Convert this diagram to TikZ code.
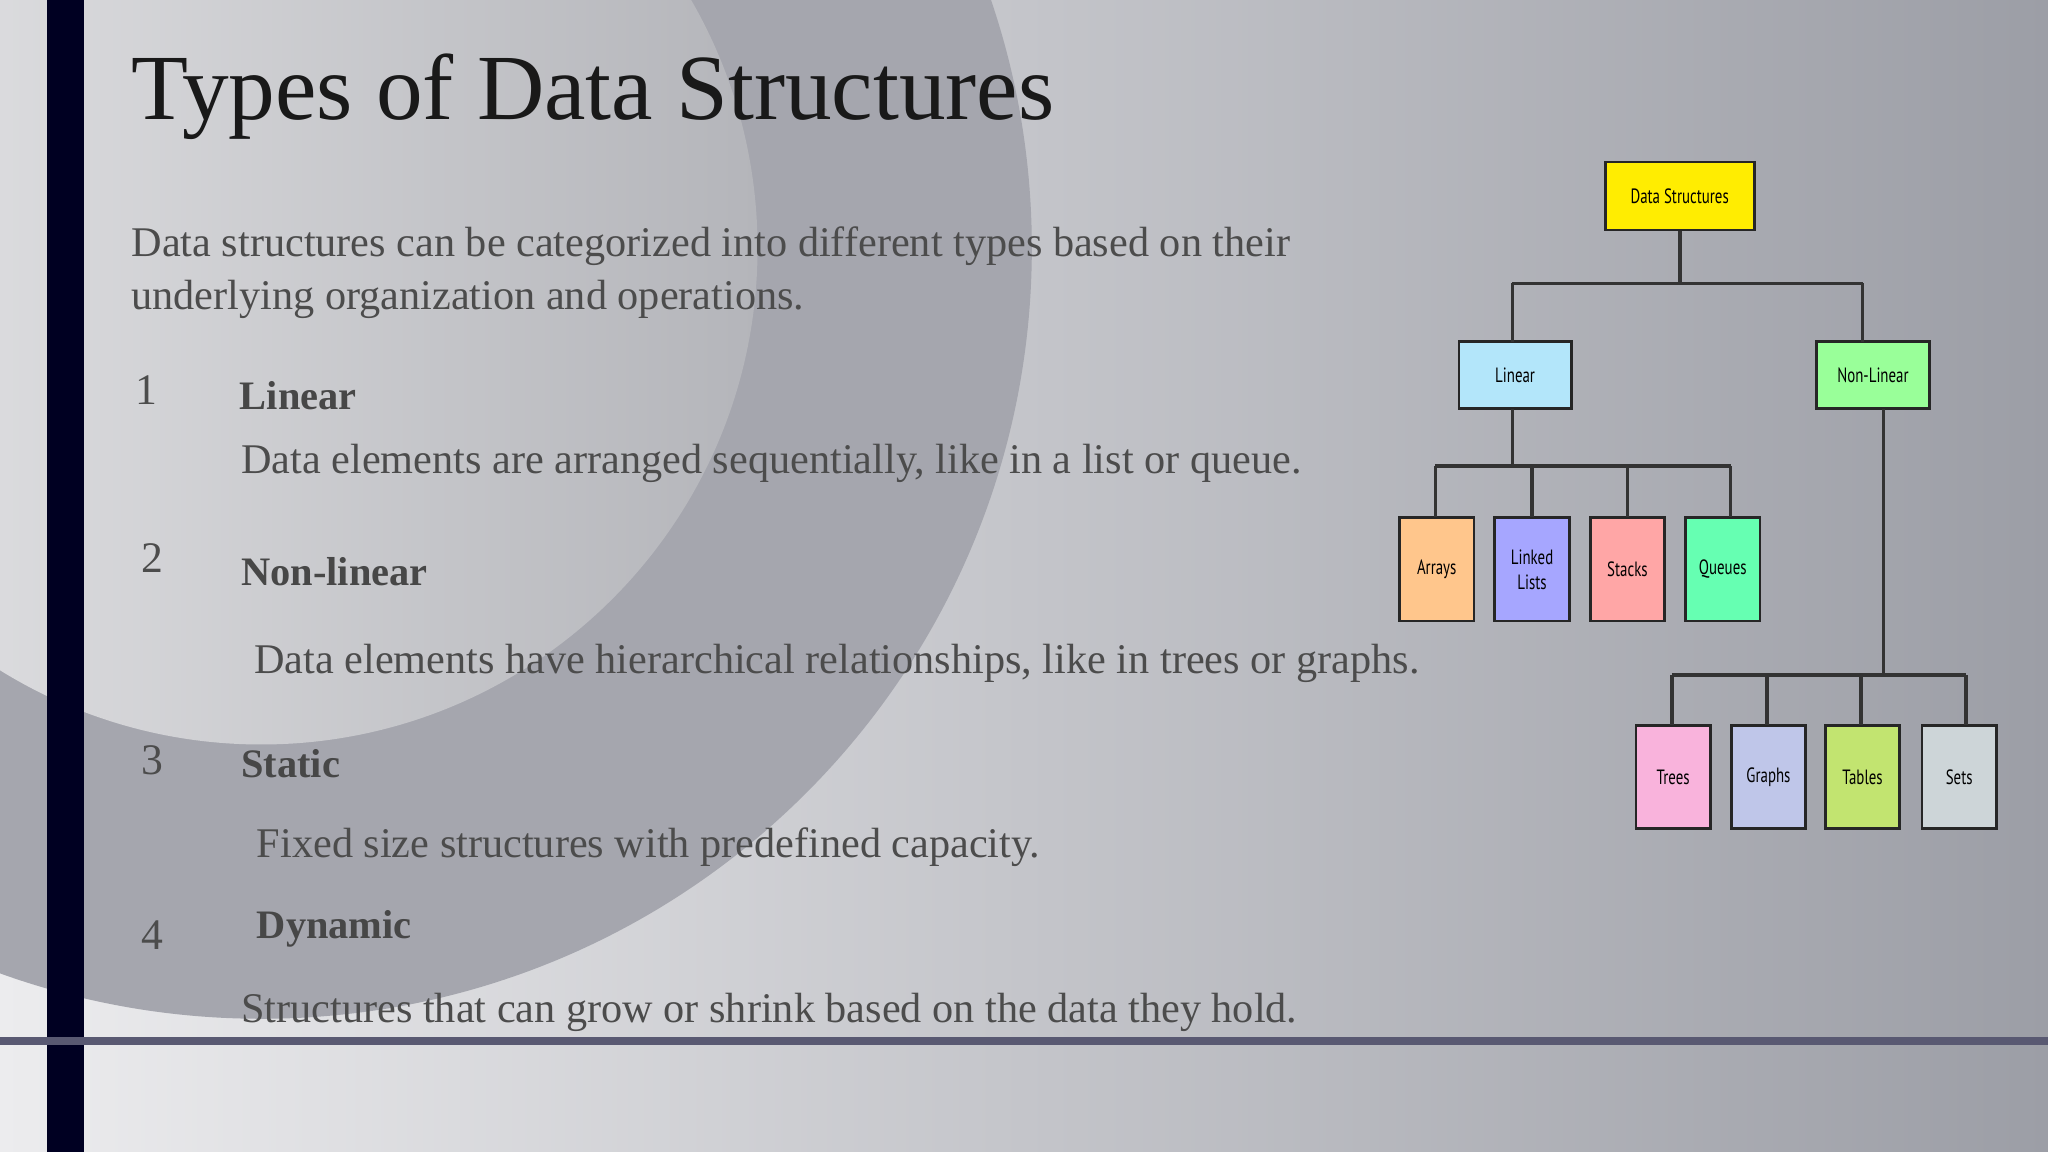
\documentclass[tikz,border=0pt]{standalone}
\usepackage{fontspec}
\setmainfont{Liberation Serif}
\newfontfamily\narrow[FakeStretch=0.72]{PT Sans}
\definecolor{bgl}{HTML}{ECECEE}
\definecolor{bgr}{HTML}{9C9EA6}
\definecolor{ring}{HTML}{A5A6AE}
\definecolor{inl}{HTML}{E6E6E8}
\definecolor{inr}{HTML}{B4B5BA}
\begin{document}
\begin{tikzpicture}[x=0.01cm,y=-0.01cm,
  box/.style={draw=black!85,line width=0.6pt,minimum width=#1,font=\narrow\fontsize{4.5}{5.5}\selectfont,align=center,inner sep=0pt},
  conn/.style={draw=black!80,line width=0.8pt},
  body/.style={anchor=west,inner sep=0pt,text=black!70,font=\fontsize{9.2}{11.5}\selectfont},
  head/.style={anchor=west,inner sep=0pt,text=black!72,font=\bfseries\fontsize{8.8}{11}\selectfont},
  num/.style={anchor=west,inner sep=0pt,text=black!70,font=\fontsize{9.5}{11}\selectfont}]
\useasboundingbox (0,0) rectangle (1568,882);
\shade[left color=bgl, right color=bgr] (0,0) rectangle (1568,882);
\begin{scope}
\clip (0,0) rectangle (1568,882);
\fill[ring] (200,190) circle (590);
\shade[left color=inl, right color=inr] (200,190) circle (380);
\end{scope}
\fill[black!55!blue!30!black] (36,0) rectangle (64,882);
\fill[blue!15!black!65] (0,794) rectangle (1568,800);
\node[anchor=west,inner sep=0pt,text=black!90,font=\fontsize{20.3}{24}\selectfont] (title) at (100,74) {Types of Data Structures};
\node[body,align=left] (intro) at (100,209) {Data structures can be categorized into different types based on their\\underlying organization and operations.};
\node[num] (n1) at (103,299) {1}; \node[head] (h1) at (183,303) {Linear};
\node[body] (b1) at (184,355) {Data elements are arranged sequentially, like in a list or queue.};
\node[num] (n2) at (108,427) {2}; \node[head] (h2) at (184,438) {Non-linear};
\node[body] (b2) at (194,508) {Data elements have hierarchical relationships, like in trees or graphs.};
\node[num] (n3) at (108,582) {3}; \node[head] (h3) at (184,585) {Static};
\node[body] (b3) at (196,649) {Fixed size structures with predefined capacity.};
\node[num] (n4) at (108,716) {4}; \node[head] (h4) at (196,711) {Dynamic};
\node[body] (b4) at (184,775) {Structures that can grow or shrink based on the data they hold.};
% tree
\node[box=1.14cm, minimum height=0.52cm, fill=yellow!95!orange] (ds) at (1286,150) {Data Structures};
\node[box=0.86cm, minimum height=0.51cm, fill=cyan!30] (lin) at (1160,287) {Linear};
\node[box=0.86cm, minimum height=0.51cm, fill=green!40] (nl) at (1434,287) {Non-Linear};
\foreach \n/\x/\c/\t in {ar/1100/orange!45/Arrays, ll/1173/blue!35/{Linked\\Lists}, st/1246/red!35/Stacks, qu/1319/green!50!cyan!60/Queues}
  \node[box=0.57cm, minimum height=0.79cm, fill=\c] (\n) at (\x,436) {\t};
\foreach \n/\x/\c/\t in {tr/1281/magenta!30/Trees, gr/1354/cyan!35!blue!25/Graphs, tb/1426/yellow!60!green!60/Tables, se/1500/cyan!15!gray!40/Sets}
  \node[box=0.57cm, minimum height=0.79cm, fill=\c] (\n) at (\x,595) {\t};
\coordinate (j0) at (1286,217);
\draw[conn] (ds.south) -- (j0);
\draw[conn] (1158,217) -- (1426,217);
\draw[conn] (1158,217) -- (1158,262);
\draw[conn] (1426,217) -- (1426,262);
\draw[conn] (1158,313) -- (1158,357);
\draw[conn] (1099,357) -- (1325,357);
\foreach \x/\n in {1099/ar,1173/ll,1246/st,1325/qu} \draw[conn] (\x,357) -- (\x,396);
\draw[conn] (1442,313) -- (1442,517);
\draw[conn] (1280,517) -- (1505,517);
\foreach \x in {1280,1353,1425,1505} \draw[conn] (\x,517) -- (\x,555);
\end{tikzpicture}
\end{document}
